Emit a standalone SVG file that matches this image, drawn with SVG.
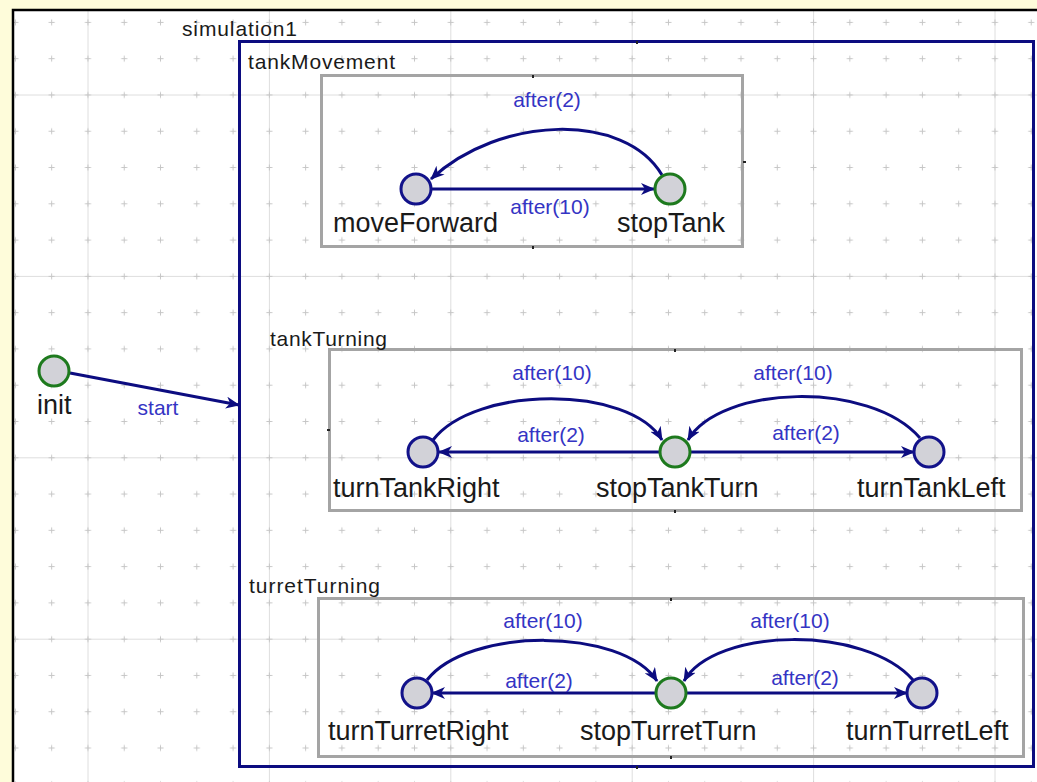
<svg xmlns="http://www.w3.org/2000/svg" width="1037" height="782" viewBox="0 0 1037 782">
<style>
.state{fill:#d2d2d8;stroke:#12128a;stroke-width:3}
.init{fill:#d2d2d8;stroke:#1e7a1e;stroke-width:3}
.sname{font-family:"Liberation Sans",Arial,sans-serif;font-size:27px;fill:#1a1a1a}
.clabel{font-family:"Liberation Sans",Arial,sans-serif;font-size:21px;fill:#1a1a1a}
.tlabel{font-family:"Liberation Sans",Arial,sans-serif;font-size:21px;fill:#3434c4;text-anchor:middle}
.tr{fill:none;stroke:#0c0c80;stroke-width:3;marker-end:url(#arr)}
.region{fill:none;stroke:#a4a4a4;stroke-width:3}
.grid{stroke:#dedede;stroke-width:1}
.handle{fill:#222}
</style>
<defs>
<marker id="arr" viewBox="0 0 14 12" refX="13" refY="6" markerWidth="14" markerHeight="12" markerUnits="userSpaceOnUse" orient="auto">
<path d="M0,0 L14,6 L0,12 L4,6 z" fill="#0c0c80"/>
</marker>
<pattern id="dots" x="-2.74" y="4.26" width="36.28" height="36.28" patternUnits="userSpaceOnUse">
<path d="M15.14,18.14h6M18.14,15.14v6" stroke="#c6c6c6" stroke-width="1"/>
</pattern>
</defs>
<rect x="0" y="0" width="1037" height="782" fill="#fefcda"/>
<rect x="13" y="10" width="1024" height="772" fill="#ffffff"/>
<g id="grid">
<path class="grid" d="M88,11V782M269.4,11V782M450.8,11V782M632.2,11V782M813.6,11V782M995,11V782M14,95H1037M14,276.4H1037M14,457.8H1037M14,639.2H1037"/>
<rect x="14" y="11" width="1023" height="771" fill="url(#dots)"/>
</g>
<path d="M13,782V10H1037" fill="none" stroke="#000" stroke-width="2.5"/>

<g id="simulation1">
<rect x="239.5" y="41.5" width="794" height="725" fill="none" stroke="#0c0c80" stroke-width="3"/>
<text class="clabel" x="182" y="36" textLength="115">simulation1</text>
<rect class="handle" x="636" y="41" width="2" height="3"/>
<rect class="handle" x="636" y="766" width="2" height="3"/>
</g>

<g id="tankMovement">
<rect class="region" x="321.5" y="75.5" width="421" height="171"/>
<text class="clabel" x="248" y="69" textLength="147">tankMovement</text>
<rect class="handle" x="532" y="75" width="2" height="3"/>
<rect class="handle" x="532" y="246" width="2" height="3"/>
<rect class="handle" x="743" y="161" width="3" height="2"/>
</g>
<g id="tankTurning">
<rect class="region" x="329.5" y="349.5" width="692" height="161"/>
<text class="clabel" x="270" y="346" textLength="117">tankTurning</text>
<rect class="handle" x="674" y="349" width="2" height="3"/>
<rect class="handle" x="674" y="510" width="2" height="3"/>
<rect class="handle" x="327" y="429" width="3" height="2"/>
</g>
<g id="turretTurning">
<rect class="region" x="318.5" y="598.5" width="705" height="158"/>
<text class="clabel" x="249" y="593" textLength="131">turretTurning</text>
<rect class="handle" x="670" y="598" width="2" height="3"/>
<rect class="handle" x="670" y="756" width="2" height="3"/>
</g>

<g id="connectors">
<path class="tr" d="M70,373 L239,405"/>
<text class="tlabel" x="158" y="415">start</text>

<path class="tr" d="M432,189 L654,189"/>
<text class="tlabel" x="550" y="214">after(10)</text>
<path class="tr" d="M662,175 C625,112 500,115 431,179"/>
<text class="tlabel" x="547" y="107">after(2)</text>

<path class="tr" d="M433,440 C475,385 630,385 662,440"/>
<text class="tlabel" x="552" y="380">after(10)</text>
<path class="tr" d="M660,452 L439,452"/>
<text class="tlabel" x="551" y="442">after(2)</text>
<path class="tr" d="M690,452 L914,452"/>
<text class="tlabel" x="806" y="440">after(2)</text>
<path class="tr" d="M920,438 C870,380 720,385 688,440"/>
<text class="tlabel" x="793" y="380">after(10)</text>

<path class="tr" d="M427,680 C468,627 622,627 657,681"/>
<text class="tlabel" x="543" y="628">after(10)</text>
<path class="tr" d="M655,693 L432,693"/>
<text class="tlabel" x="539" y="688">after(2)</text>
<path class="tr" d="M685,693 L907,693"/>
<text class="tlabel" x="805" y="685">after(2)</text>
<path class="tr" d="M913,680 C865,625 715,627 684,681"/>
<text class="tlabel" x="790" y="628">after(10)</text>
</g>

<g id="init">
<circle class="init" cx="54" cy="371" r="15"/>
<text class="sname" x="37" y="414">init</text>
</g>
<g id="moveForward">
<circle class="state" cx="416" cy="189" r="15"/>
<text class="sname" x="333" y="232">moveForward</text>
</g>
<g id="stopTank">
<circle class="init" cx="670" cy="189" r="15"/>
<text class="sname" x="617" y="232">stopTank</text>
</g>
<g id="turnTankRight">
<circle class="state" cx="423" cy="452" r="15"/>
<text class="sname" x="333" y="497">turnTankRight</text>
</g>
<g id="stopTankTurn">
<circle class="init" cx="675" cy="452" r="15"/>
<text class="sname" x="596" y="497">stopTankTurn</text>
</g>
<g id="turnTankLeft">
<circle class="state" cx="929" cy="452" r="15"/>
<text class="sname" x="857" y="497">turnTankLeft</text>
</g>
<g id="turnTurretRight">
<circle class="state" cx="417" cy="693" r="15"/>
<text class="sname" x="328" y="740">turnTurretRight</text>
</g>
<g id="stopTurretTurn">
<circle class="init" cx="671" cy="693" r="15"/>
<text class="sname" x="580" y="740">stopTurretTurn</text>
</g>
<g id="turnTurretLeft">
<circle class="state" cx="922" cy="693" r="15"/>
<text class="sname" x="846" y="740">turnTurretLeft</text>
</g>
</svg>
